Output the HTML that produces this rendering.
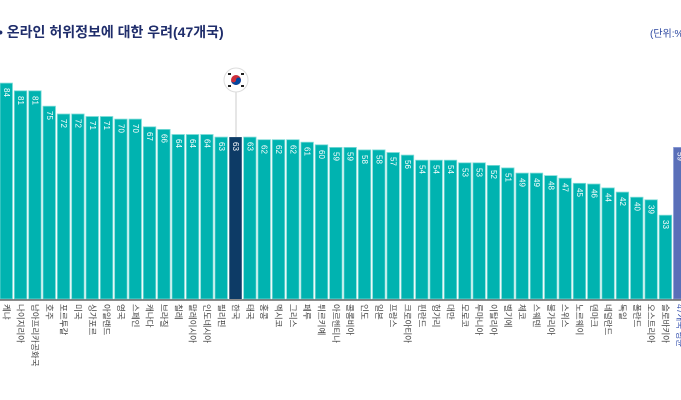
<!DOCTYPE html>
<html><head><meta charset="utf-8"><style>
html,body{margin:0;padding:0;background:#fff;width:681px;height:400px;overflow:hidden}
svg{display:block}
text{font-family:"Liberation Sans","Noto Sans CJK KR",sans-serif}
.v{fill:#fff;font-size:8px;dominant-baseline:central}
.l{fill:#444;font-size:8.5px;dominant-baseline:central}
.b{fill:#00b3b0;stroke:#7fdcd8;stroke-width:0.8}
</style></head><body>
<svg width="681" height="400" viewBox="0 0 681 400">
<text x="-2" y="37" font-size="14" font-weight="bold" fill="#1f2d6b">• 온라인 허위정보에 대한 우려(47개국)</text>
<text x="650" y="37" font-size="10" fill="#2a46a0">(단위:%)</text>
<line x1="236" y1="90" x2="236" y2="137" stroke="#ccc" stroke-width="1"/>
<circle cx="236" cy="80" r="12" fill="#fff" stroke="#ddd"/>
<circle cx="236" cy="80" r="5" fill="#cd2e3a"/>
<path d="M231 80 a5 5 0 0 0 10 0 a2.5 2.5 0 0 0 -5 0 a2.5 2.5 0 0 1 -5 0z" fill="#0047a0"/>
<g fill="#222"><rect x="228" y="73" width="3" height="2"/><rect x="241" y="73" width="3" height="2"/><rect x="228" y="85" width="3" height="2"/><rect x="241" y="85" width="3" height="2"/></g>
<g id="bars">
<g transform="translate(0,0)"><rect class="b" x="0" y="83.1" width="12.5" height="215.9"/><text class="v" transform="translate(6.3,88) rotate(90)">84</text><text class="l" transform="translate(6.3,304) rotate(90)">케냐</text></g>
<g transform="translate(14.33,0)"><rect class="b" x="0" y="90.8" width="12.5" height="208.2"/><text class="v" transform="translate(6.3,96) rotate(90)">81</text><text class="l" transform="translate(6.3,304) rotate(90)">나이지리아</text></g>
<g transform="translate(28.66,0)"><rect class="b" x="0" y="90.8" width="12.5" height="208.2"/><text class="v" transform="translate(6.3,96) rotate(90)">81</text><text class="l" transform="translate(6.3,304) rotate(90)">남아프리카공화국</text></g>
<g transform="translate(42.99,0)"><rect class="b" x="0" y="106.2" width="12.5" height="192.8"/><text class="v" transform="translate(6.3,111) rotate(90)">75</text><text class="l" transform="translate(6.3,304) rotate(90)">호주</text></g>
<g transform="translate(57.32,0)"><rect class="b" x="0" y="114" width="12.5" height="185"/><text class="v" transform="translate(6.3,119) rotate(90)">72</text><text class="l" transform="translate(6.3,304) rotate(90)">포르투갈</text></g>
<g transform="translate(71.65,0)"><rect class="b" x="0" y="114" width="12.5" height="185"/><text class="v" transform="translate(6.3,119) rotate(90)">72</text><text class="l" transform="translate(6.3,304) rotate(90)">미국</text></g>
<g transform="translate(85.98,0)"><rect class="b" x="0" y="116.5" width="12.5" height="182.5"/><text class="v" transform="translate(6.3,121) rotate(90)">71</text><text class="l" transform="translate(6.3,304) rotate(90)">싱가포르</text></g>
<g transform="translate(100.31,0)"><rect class="b" x="0" y="116.5" width="12.5" height="182.5"/><text class="v" transform="translate(6.3,121) rotate(90)">71</text><text class="l" transform="translate(6.3,304) rotate(90)">아일랜드</text></g>
<g transform="translate(114.64,0)"><rect class="b" x="0" y="119.1" width="12.5" height="179.9"/><text class="v" transform="translate(6.3,124) rotate(90)">70</text><text class="l" transform="translate(6.3,304) rotate(90)">영국</text></g>
<g transform="translate(128.97,0)"><rect class="b" x="0" y="119.1" width="12.5" height="179.9"/><text class="v" transform="translate(6.3,124) rotate(90)">70</text><text class="l" transform="translate(6.3,304) rotate(90)">스페인</text></g>
<g transform="translate(143.3,0)"><rect class="b" x="0" y="126.8" width="12.5" height="172.2"/><text class="v" transform="translate(6.3,132) rotate(90)">67</text><text class="l" transform="translate(6.3,304) rotate(90)">캐나다</text></g>
<g transform="translate(157.63,0)"><rect class="b" x="0" y="129.4" width="12.5" height="169.6"/><text class="v" transform="translate(6.3,134) rotate(90)">66</text><text class="l" transform="translate(6.3,304) rotate(90)">브라질</text></g>
<g transform="translate(171.96,0)"><rect class="b" x="0" y="134.5" width="12.5" height="164.5"/><text class="v" transform="translate(6.3,139) rotate(90)">64</text><text class="l" transform="translate(6.3,304) rotate(90)">칠레</text></g>
<g transform="translate(186.29,0)"><rect class="b" x="0" y="134.5" width="12.5" height="164.5"/><text class="v" transform="translate(6.3,139) rotate(90)">64</text><text class="l" transform="translate(6.3,304) rotate(90)">말레이시아</text></g>
<g transform="translate(200.62,0)"><rect class="b" x="0" y="134.5" width="12.5" height="164.5"/><text class="v" transform="translate(6.3,139) rotate(90)">64</text><text class="l" transform="translate(6.3,304) rotate(90)">인도네시아</text></g>
<g transform="translate(214.95,0)"><rect class="b" x="0" y="137.1" width="12.5" height="161.9"/><text class="v" transform="translate(6.3,142) rotate(90)">63</text><text class="l" transform="translate(6.3,304) rotate(90)">필리핀</text></g>
<g transform="translate(229.28,0)"><rect x="0" y="137.1" width="12.5" height="161.9" fill="#0d3b66"/><text class="v" transform="translate(6.3,142) rotate(90)">63</text><text class="l" transform="translate(6.3,304) rotate(90)">한국</text></g>
<g transform="translate(243.61,0)"><rect class="b" x="0" y="137.1" width="12.5" height="161.9"/><text class="v" transform="translate(6.3,142) rotate(90)">63</text><text class="l" transform="translate(6.3,304) rotate(90)">태국</text></g>
<g transform="translate(257.94,0)"><rect class="b" x="0" y="139.7" width="12.5" height="159.3"/><text class="v" transform="translate(6.3,145) rotate(90)">62</text><text class="l" transform="translate(6.3,304) rotate(90)">홍콩</text></g>
<g transform="translate(272.27,0)"><rect class="b" x="0" y="139.7" width="12.5" height="159.3"/><text class="v" transform="translate(6.3,145) rotate(90)">62</text><text class="l" transform="translate(6.3,304) rotate(90)">멕시코</text></g>
<g transform="translate(286.6,0)"><rect class="b" x="0" y="139.7" width="12.5" height="159.3"/><text class="v" transform="translate(6.3,145) rotate(90)">62</text><text class="l" transform="translate(6.3,304) rotate(90)">그리스</text></g>
<g transform="translate(300.93,0)"><rect class="b" x="0" y="142.2" width="12.5" height="156.8"/><text class="v" transform="translate(6.3,147) rotate(90)">61</text><text class="l" transform="translate(6.3,304) rotate(90)">페루</text></g>
<g transform="translate(315.26,0)"><rect class="b" x="0" y="144.8" width="12.5" height="154.2"/><text class="v" transform="translate(6.3,150) rotate(90)">60</text><text class="l" transform="translate(6.3,304) rotate(90)">튀르키예</text></g>
<g transform="translate(329.59,0)"><rect class="b" x="0" y="147.4" width="12.5" height="151.6"/><text class="v" transform="translate(6.3,152) rotate(90)">59</text><text class="l" transform="translate(6.3,304) rotate(90)">아르헨티나</text></g>
<g transform="translate(343.92,0)"><rect class="b" x="0" y="147.4" width="12.5" height="151.6"/><text class="v" transform="translate(6.3,152) rotate(90)">59</text><text class="l" transform="translate(6.3,304) rotate(90)">콜롬비아</text></g>
<g transform="translate(358.25,0)"><rect class="b" x="0" y="149.9" width="12.5" height="149.1"/><text class="v" transform="translate(6.3,155) rotate(90)">58</text><text class="l" transform="translate(6.3,304) rotate(90)">인도</text></g>
<g transform="translate(372.58,0)"><rect class="b" x="0" y="149.9" width="12.5" height="149.1"/><text class="v" transform="translate(6.3,155) rotate(90)">58</text><text class="l" transform="translate(6.3,304) rotate(90)">일본</text></g>
<g transform="translate(386.91,0)"><rect class="b" x="0" y="152.5" width="12.5" height="146.5"/><text class="v" transform="translate(6.3,157) rotate(90)">57</text><text class="l" transform="translate(6.3,304) rotate(90)">프랑스</text></g>
<g transform="translate(401.24,0)"><rect class="b" x="0" y="155.1" width="12.5" height="143.9"/><text class="v" transform="translate(6.3,160) rotate(90)">56</text><text class="l" transform="translate(6.3,304) rotate(90)">크로아티아</text></g>
<g transform="translate(415.57,0)"><rect class="b" x="0" y="160.2" width="12.5" height="138.8"/><text class="v" transform="translate(6.3,165) rotate(90)">54</text><text class="l" transform="translate(6.3,304) rotate(90)">핀란드</text></g>
<g transform="translate(429.9,0)"><rect class="b" x="0" y="160.2" width="12.5" height="138.8"/><text class="v" transform="translate(6.3,165) rotate(90)">54</text><text class="l" transform="translate(6.3,304) rotate(90)">헝가리</text></g>
<g transform="translate(444.23,0)"><rect class="b" x="0" y="160.2" width="12.5" height="138.8"/><text class="v" transform="translate(6.3,165) rotate(90)">54</text><text class="l" transform="translate(6.3,304) rotate(90)">대만</text></g>
<g transform="translate(458.56,0)"><rect class="b" x="0" y="162.8" width="12.5" height="136.2"/><text class="v" transform="translate(6.3,168) rotate(90)">53</text><text class="l" transform="translate(6.3,304) rotate(90)">모로코</text></g>
<g transform="translate(472.89,0)"><rect class="b" x="0" y="162.8" width="12.5" height="136.2"/><text class="v" transform="translate(6.3,168) rotate(90)">53</text><text class="l" transform="translate(6.3,304) rotate(90)">루마니아</text></g>
<g transform="translate(487.22,0)"><rect class="b" x="0" y="165.4" width="12.5" height="133.6"/><text class="v" transform="translate(6.3,170) rotate(90)">52</text><text class="l" transform="translate(6.3,304) rotate(90)">이탈리아</text></g>
<g transform="translate(501.55,0)"><rect class="b" x="0" y="167.9" width="12.5" height="131.1"/><text class="v" transform="translate(6.3,173) rotate(90)">51</text><text class="l" transform="translate(6.3,304) rotate(90)">벨기에</text></g>
<g transform="translate(515.88,0)"><rect class="b" x="0" y="173.1" width="12.5" height="125.9"/><text class="v" transform="translate(6.3,178) rotate(90)">49</text><text class="l" transform="translate(6.3,304) rotate(90)">체코</text></g>
<g transform="translate(530.21,0)"><rect class="b" x="0" y="173.1" width="12.5" height="125.9"/><text class="v" transform="translate(6.3,178) rotate(90)">49</text><text class="l" transform="translate(6.3,304) rotate(90)">스웨덴</text></g>
<g transform="translate(544.54,0)"><rect class="b" x="0" y="175.6" width="12.5" height="123.4"/><text class="v" transform="translate(6.3,181) rotate(90)">48</text><text class="l" transform="translate(6.3,304) rotate(90)">불가리아</text></g>
<g transform="translate(558.87,0)"><rect class="b" x="0" y="178.2" width="12.5" height="120.8"/><text class="v" transform="translate(6.3,183) rotate(90)">47</text><text class="l" transform="translate(6.3,304) rotate(90)">스위스</text></g>
<g transform="translate(573.2,0)"><rect class="b" x="0" y="183.3" width="12.5" height="115.7"/><text class="v" transform="translate(6.3,188) rotate(90)">45</text><text class="l" transform="translate(6.3,304) rotate(90)">노르웨이</text></g>
<g transform="translate(587.53,0)"><rect class="b" x="0" y="184" width="12.5" height="115"/><text class="v" transform="translate(6.3,189) rotate(90)">46</text><text class="l" transform="translate(6.3,304) rotate(90)">덴마크</text></g>
<g transform="translate(601.86,0)"><rect class="b" x="0" y="187.9" width="12.5" height="111.1"/><text class="v" transform="translate(6.3,193) rotate(90)">44</text><text class="l" transform="translate(6.3,304) rotate(90)">네덜란드</text></g>
<g transform="translate(616.19,0)"><rect class="b" x="0" y="192.1" width="12.5" height="106.9"/><text class="v" transform="translate(6.3,197) rotate(90)">42</text><text class="l" transform="translate(6.3,304) rotate(90)">독일</text></g>
<g transform="translate(630.52,0)"><rect class="b" x="0" y="197.2" width="12.5" height="101.8"/><text class="v" transform="translate(6.3,202) rotate(90)">40</text><text class="l" transform="translate(6.3,304) rotate(90)">폴란드</text></g>
<g transform="translate(644.85,0)"><rect class="b" x="0" y="199.8" width="12.5" height="99.2"/><text class="v" transform="translate(6.3,205) rotate(90)">39</text><text class="l" transform="translate(6.3,304) rotate(90)">오스트리아</text></g>
<g transform="translate(659.18,0)"><rect class="b" x="0" y="215.2" width="12.5" height="83.8"/><text class="v" transform="translate(6.3,220) rotate(90)">33</text><text class="l" transform="translate(6.3,304) rotate(90)">슬로바키아</text></g>
<g transform="translate(673.5,0)"><rect x="0" y="147.4" width="14" height="151.6" fill="#5a6fb8" stroke="#8fa0d8" stroke-width="0.8"/><text class="v" transform="translate(6.3,152) rotate(90)">59</text><text class="l" style="fill:#3a55b0" transform="translate(6.3,304) rotate(90)">47개국 평균</text></g>
</g>
<line x1="0" y1="300" x2="681" y2="300" stroke="#666" stroke-width="1.5"/>
</svg>
</body></html>
